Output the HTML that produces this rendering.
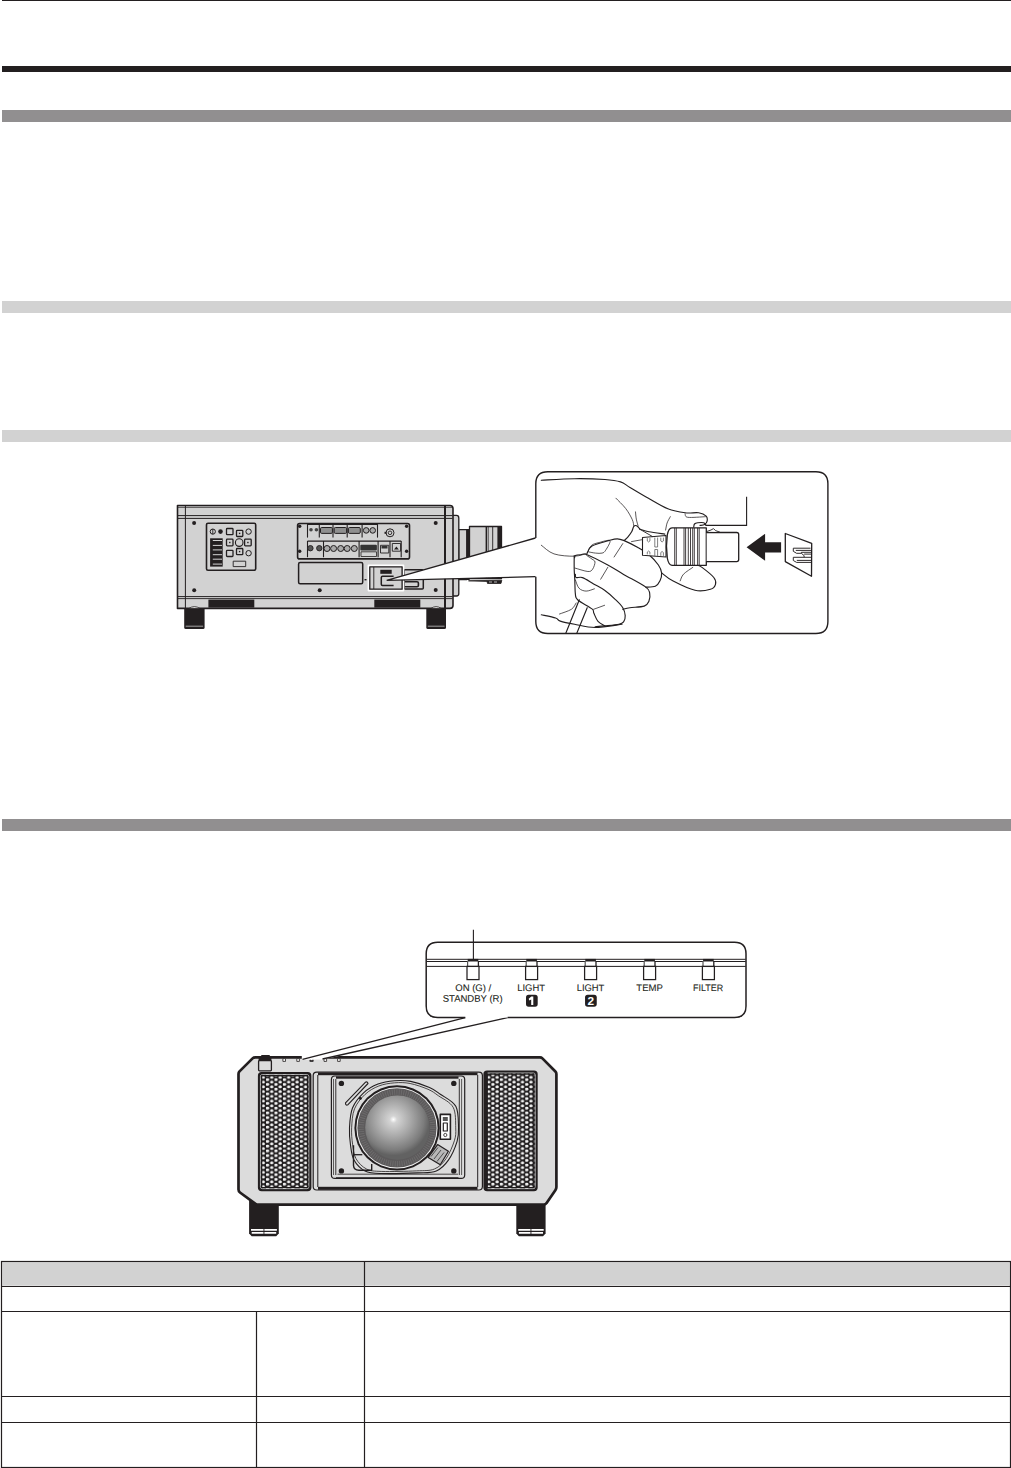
<!DOCTYPE html>
<html><head><meta charset="utf-8">
<style>
html,body{margin:0;padding:0;background:#fff;}
body{width:1011px;height:1468px;position:relative;overflow:hidden;font-family:"Liberation Sans",sans-serif;}
.a{position:absolute;}
#fig{position:absolute;left:0;top:0;}
</style></head>
<body>

<div class="a" style="left:2px;top:0;width:1009px;height:1px;background:#231f20"></div>
<div class="a" style="left:2px;top:66px;width:1009px;height:6px;background:#231f20"></div>
<div class="a" style="left:2px;top:110px;width:1009px;height:12px;background:#918f90"></div>
<div class="a" style="left:2px;top:301px;width:1009px;height:12px;background:#d2d2d2"></div>
<div class="a" style="left:2px;top:430px;width:1009px;height:12px;background:#d2d2d2"></div>
<div class="a" style="left:2px;top:819px;width:1009px;height:12px;background:#918f90"></div>

<svg id="fig" width="1011" height="1468" viewBox="0 0 1011 1468">

<g id="table">
<rect x="1.5" y="1261.5" width="1009" height="25" fill="#d2d2d2"/>
<rect x="2.6" y="1262.6" width="1006.8" height="22.8" fill="none" stroke="#e2e2e2" stroke-width="0.8"/>
<g stroke="#231f20" stroke-width="1.2" fill="none">
<rect x="1.5" y="1261.5" width="1009" height="206"/>
<line x1="1" y1="1286.5" x2="1011" y2="1286.5"/>
<line x1="1" y1="1311.5" x2="1011" y2="1311.5"/>
<line x1="1" y1="1396.5" x2="1011" y2="1396.5"/>
<line x1="1" y1="1422.5" x2="1011" y2="1422.5"/>
<line x1="364.5" y1="1261" x2="364.5" y2="1468"/>
<line x1="256.5" y1="1311" x2="256.5" y2="1468"/>
</g>
</g>
<g id="side" stroke="#231f20" fill="none" stroke-linejoin="round">
<rect x="469.5" y="526.5" width="32" height="52" fill="#d2d2d2" stroke-width="1.3"/>
<rect x="497.4" y="527" width="4.2" height="52" fill="#231f20" stroke="none"/>
<line x1="486.4" y1="527" x2="486.4" y2="579" stroke-width="1.6"/>
<line x1="488.4" y1="527" x2="488.4" y2="579" stroke-width="0.6"/>
<line x1="492.7" y1="527" x2="492.7" y2="579" stroke-width="0.9"/>
<rect x="458.8" y="529.6" width="8" height="50" fill="#d2d2d2" stroke-width="1.2"/>
<rect x="466.4" y="529" width="3.3" height="51" fill="#231f20" stroke="none"/>
<path d="M468.5,580.8 L487,581.4 L487.5,583.5 L501,583.5 L501.8,580.2 Z" fill="#231f20" stroke-width="0.8"/>
<path d="M489,582 L492,582 M494,582 L497,582" stroke="#ddd" stroke-width="0.8"/>
<path d="M450,515.4 L456.5,515.4 Q458.8,515.4 458.8,518 L458.8,593.5 Q458.8,596 456.5,596 L450,596" fill="#d2d2d2" stroke-width="1.3"/>
<line x1="452.6" y1="516" x2="452.6" y2="596" stroke-width="0.8"/>
<path d="M177.5,505.5 L450,505.5 Q453,505.5 453,508.5 L453,605.5 Q453,608.4 450,608.4 L177.5,608.4 Z" fill="#d2d2d2" stroke-width="1.6"/>
<line x1="178" y1="507.4" x2="452.5" y2="507.4" stroke-width="0.7"/>
<line x1="178" y1="515.6" x2="452.5" y2="515.6" stroke-width="1.0"/>
<line x1="178" y1="518.4" x2="452.5" y2="518.4" stroke-width="1.0"/>
<line x1="178" y1="596.6" x2="452.5" y2="596.6" stroke-width="1.0"/>
<line x1="178" y1="598.6" x2="452.5" y2="598.6" stroke-width="0.9"/>
<line x1="185.4" y1="506" x2="185.4" y2="608" stroke-width="1.0"/>
<line x1="445" y1="506" x2="445" y2="608" stroke-width="2.0"/>
<path d="M184.2,608 L204.6,608 L204.6,627.5 Q204.6,629 203.1,629 L185.7,629 Q184.2,629 184.2,627.5 Z" fill="#231f20" stroke="none"/>
<line x1="185.7" y1="626.2" x2="203.1" y2="626.2" stroke="#d8d8d8" stroke-width="0.7"/>
<path d="M188.7,608.6 Q194.39999999999998,604.6 200.1,608.6 Z" stroke="#231f20" stroke-width="0.8" fill="#e2e2e2"/>
<path d="M426.3,608 L446,608 L446,627.5 Q446,629 444.5,629 L427.8,629 Q426.3,629 426.3,627.5 Z" fill="#231f20" stroke="none"/>
<line x1="427.8" y1="626.2" x2="444.5" y2="626.2" stroke="#d8d8d8" stroke-width="0.7"/>
<path d="M430.8,608.6 Q436.15,604.6 441.5,608.6 Z" stroke="#231f20" stroke-width="0.8" fill="#e2e2e2"/>
<rect x="208.4" y="599.6" width="45.900000000000006" height="8" fill="#231f20" stroke="none"/>
<rect x="374.3" y="599.6" width="46.0" height="8" fill="#231f20" stroke="none"/>
<circle cx="194.1" cy="523" r="2" fill="#231f20" stroke="none"/>
<circle cx="194.2" cy="590.2" r="2" fill="#231f20" stroke="none"/>
<circle cx="319.7" cy="590.2" r="2" fill="#231f20" stroke="none"/>
<circle cx="435.7" cy="522.9" r="2" fill="#231f20" stroke="none"/>
<circle cx="435.7" cy="590.1" r="2" fill="#231f20" stroke="none"/>
<rect x="206.5" y="523.3" width="49.2" height="47" rx="1.5" fill="#d2d2d2" stroke-width="1.6"/>
<circle cx="212.8" cy="531.6" r="2.6" stroke-width="1"/><line x1="212.8" y1="529" x2="212.8" y2="534.2" stroke-width="0.9"/>
<circle cx="220.5" cy="531.6" r="2.3" fill="#231f20" stroke="none"/>
<rect x="226.5" y="528.5" width="6.5" height="6.2" rx="0.8" stroke-width="1.3"/>
<rect x="236.5" y="530.3" width="6.3" height="6.2" rx="0.8" stroke-width="1.3"/>
<rect x="226.5" y="539.2" width="6.5" height="6.6" rx="0.8" stroke-width="1.3"/>
<rect x="244.6" y="539.2" width="6.6" height="6.6" rx="0.8" stroke-width="1.3"/>
<rect x="226.5" y="550.3" width="6.5" height="6.2" rx="0.8" stroke-width="1.3"/>
<rect x="236.5" y="548.5" width="6.3" height="6.2" rx="0.8" stroke-width="1.3"/>
<rect x="238.9" y="532.6999999999999" width="1.4" height="1.4" fill="#231f20" stroke="none"/>
<rect x="229.10000000000002" y="541.8" width="1.4" height="1.4" fill="#231f20" stroke="none"/>
<rect x="247.20000000000002" y="541.8" width="1.4" height="1.4" fill="#231f20" stroke="none"/>
<rect x="238.9" y="550.9" width="1.4" height="1.4" fill="#231f20" stroke="none"/>
<circle cx="248.6" cy="531.6" r="2.7" stroke-width="1"/>
<circle cx="248.6" cy="553.2" r="2.7" stroke-width="1"/>
<circle cx="239.2" cy="542.6" r="3.8" stroke-width="1.1"/>
<rect x="233.2" y="561.2" width="12.5" height="5.4" stroke-width="0.9"/>
<rect x="210.1" y="538.3" width="12.6" height="28.3" fill="#231f20" stroke="none"/>
<line x1="212.8" y1="540.5" x2="222" y2="540.5" stroke="#e8e8e8" stroke-width="0.9"/>
<line x1="212.8" y1="545.4" x2="222" y2="545.4" stroke="#e8e8e8" stroke-width="0.9"/>
<line x1="212.8" y1="549.9" x2="222" y2="549.9" stroke="#e8e8e8" stroke-width="0.9"/>
<line x1="212.8" y1="554.7" x2="222" y2="554.7" stroke="#e8e8e8" stroke-width="0.9"/>
<line x1="212.8" y1="559.2" x2="222" y2="559.2" stroke="#e8e8e8" stroke-width="0.9"/>
<line x1="212.8" y1="564.1" x2="222" y2="564.1" stroke="#e8e8e8" stroke-width="0.9"/>
<rect x="297.6" y="523.5" width="111.9" height="35.4" rx="2" fill="#d2d2d2" stroke-width="1.6"/>
<line x1="307.5" y1="524.2" x2="377.5" y2="524.2" stroke-width="1.6"/>
<line x1="307.5" y1="524" x2="307.5" y2="537.6" stroke-width="1.1"/>
<line x1="319.3" y1="524" x2="319.3" y2="537.6" stroke-width="1.1"/>
<line x1="333" y1="524" x2="333" y2="537.6" stroke-width="1.1"/>
<line x1="347.2" y1="524" x2="347.2" y2="537.6" stroke-width="1.1"/>
<line x1="362.1" y1="524" x2="362.1" y2="537.6" stroke-width="1.1"/>
<line x1="377.5" y1="524" x2="377.5" y2="537.6" stroke-width="1.1"/>
<rect x="320.5" y="527.5" width="11.899999999999977" height="5.9" rx="1.2" fill="#8f8f8f" stroke-width="1"/>
<rect x="334.2" y="527.5" width="12.400000000000034" height="5.9" rx="1.2" fill="#8f8f8f" stroke-width="1"/>
<rect x="348.4" y="527.5" width="11.900000000000034" height="5.9" rx="1.2" fill="#8f8f8f" stroke-width="1"/>
<circle cx="311" cy="529.8" r="1.8" fill="#444" stroke="none"/>
<circle cx="316.4" cy="529.8" r="1.8" fill="#444" stroke="none"/>
<circle cx="366.2" cy="530.4" r="2.8" fill="#aaa" stroke-width="1"/>
<circle cx="372.7" cy="530.4" r="2.8" fill="#aaa" stroke-width="1"/>
<circle cx="390" cy="532.8" r="4" stroke-width="1"/><circle cx="390" cy="532.8" r="1.8" stroke-width="0.9"/><rect x="384.5" y="531.8" width="2" height="2" fill="#231f20" stroke="none"/>
<line x1="307.5" y1="541.2" x2="401.2" y2="541.2" stroke-width="1.2"/>
<line x1="307.5" y1="541" x2="307.5" y2="557.2" stroke-width="1.1"/>
<line x1="323.5" y1="541" x2="323.5" y2="557.2" stroke-width="1.1"/>
<line x1="359.1" y1="541" x2="359.1" y2="557.2" stroke-width="1.1"/>
<line x1="378.1" y1="541" x2="378.1" y2="557.2" stroke-width="1.1"/>
<line x1="390" y1="541" x2="390" y2="557.2" stroke-width="1.1"/>
<line x1="401.2" y1="541" x2="401.2" y2="557.2" stroke-width="1.1"/>
<circle cx="310.4" cy="548.2" r="2.7" fill="#555" stroke-width="0.9"/>
<circle cx="319.3" cy="548.2" r="2.7" fill="#555" stroke-width="0.9"/>
<circle cx="327" cy="548.5" r="3" fill="#aaa" stroke-width="1"/>
<circle cx="333.6" cy="548.5" r="3" fill="#aaa" stroke-width="1"/>
<circle cx="340.7" cy="548.5" r="3" fill="#aaa" stroke-width="1"/>
<circle cx="347.2" cy="548.5" r="3" fill="#aaa" stroke-width="1"/>
<circle cx="354.3" cy="548.5" r="3" fill="#aaa" stroke-width="1"/>
<rect x="360.3" y="544.7" width="16.6" height="5.9" rx="1" fill="#333" stroke="none"/>
<rect x="361" y="551.8" width="15.5" height="4.7" stroke-width="0.8"/>
<rect x="380.5" y="545.3" width="8.3" height="7.7" stroke-width="0.9"/><rect x="381.5" y="546" width="6" height="2.5" fill="#333" stroke="none"/>
<rect x="392.3" y="543.5" width="8.3" height="7.7" stroke-width="0.9"/><path d="M394,549.5 L396.4,546.5 L398.8,549.5Z" fill="#231f20" stroke="none"/>
<circle cx="299.7" cy="526.3" r="1.7" fill="#231f20" stroke="none"/>
<circle cx="406.6" cy="526.3" r="1.7" fill="#231f20" stroke="none"/>
<circle cx="299.7" cy="551.2" r="1.7" fill="#231f20" stroke="none"/>
<circle cx="406.6" cy="551.2" r="1.7" fill="#231f20" stroke="none"/>
<rect x="298.6" y="562.5" width="64.1" height="21.3" rx="1.5" stroke-width="1.5"/>
<rect x="364.5" y="579" width="2" height="1.4" fill="#231f20" stroke="none"/>
<rect x="404" y="569.8" width="19.3" height="19.3" rx="1" stroke-width="1.5"/>
<path d="M404.5,581.7 L417,581.7 Q418.4,581.7 418.4,583 L418.4,585.5 Q418.4,586.7 417,586.7 L404.5,586.7" stroke-width="1.6"/>
<rect x="368.4" y="565.4" width="35.1" height="25.2" stroke="#fff" stroke-width="1.6" fill="#d2d2d2"/>
<rect x="369.8" y="566.8" width="32.3" height="22.4" stroke-width="1.3"/>
<line x1="373.8" y1="567" x2="373.8" y2="589" stroke-width="0.9"/>
<rect x="380.3" y="569.8" width="11.4" height="4" fill="#231f20" stroke="none"/>
<path d="M393.6,576.3 L382.5,576.3 Q381.3,576.3 381.3,577.5 L381.3,584.3 Q381.3,585.5 382.5,585.5 L393.6,585.5" stroke-width="1.5"/>
</g><path d="M535.5,538 L386.7,580.3 L535.5,576.7" fill="#fff" stroke="#231f20" stroke-width="1.3" stroke-linejoin="miter"/>
<rect x="536" y="538.5" width="3" height="38" fill="#fff"/>
<path d="M535.8,538 L535.8,483.8 Q535.8,471.8 547.8,471.8 L815.9,471.8 Q827.9,471.8 827.9,483.8 L827.9,621.5 Q827.9,633.5 815.9,633.5 L547.8,633.5 Q535.8,633.5 535.8,621.5 L535.8,576.7" fill="none" stroke="#231f20" stroke-width="1.4"/><g id="hand" stroke="#231f20" fill="none" stroke-linecap="round" stroke-linejoin="round">
<path d="M541.3,480.3 C546.85,480.03 563.98,478.83 574.6,478.7 C585.22,478.57 597.35,478.97 605,479.5 C612.65,480.03 616.33,480.58 620.5,481.9 C624.67,483.22 625.42,484.72 630,487.4 C634.58,490.08 641.68,494.43 648,498 C654.32,501.57 661.7,506.33 667.9,508.8 C674.1,511.27 680.07,512.13 685.2,512.8 C690.33,513.47 695.2,512.23 698.7,512.8 C702.2,513.37 704.8,514.8 706.2,516.2 C707.6,517.6 707.37,519.8 707.1,521.2 C706.83,522.6 705.78,523.9 704.6,524.6 C703.42,525.3 700.77,525.27 700,525.4" stroke-width="1.15"/>
<path d="M685.2,513.6 C685.62,514.22 684.33,516.78 687.7,517.3 C691.07,517.82 702.45,516.8 705.4,516.7" stroke-width="0.75"/>
<path d="M693.7,527.2 C693.83,526.67 693.83,524.73 694.5,524 C695.17,523.27 696.18,523.02 697.7,522.8 C699.22,522.58 702.25,522.37 703.6,522.7 C704.95,523.03 705.43,524.45 705.8,524.8" stroke-width="1.15"/>
<path d="M615.9,498.2 C617.53,499.92 622.98,504.97 625.7,508.5 C628.42,512.03 630.85,516.5 632.2,519.4 C633.55,522.3 633.53,524.82 633.8,525.9" stroke-width="0.75"/>
<path d="M635.5,511.9 C635.63,513.1 635.85,516.72 636.3,519.1 C636.75,521.48 637.88,525.02 638.2,526.2" stroke-width="0.75"/>
<path d="M670.3,516.7 C669.77,517.75 667.88,520.77 667.1,523 C666.32,525.23 665.85,528.92 665.6,530.1" stroke-width="0.75"/>
<path d="M640,529.2 C639.43,528.63 637.63,526.27 636.6,525.8 C635.57,525.33 634.6,525.45 633.8,526.4 C633,527.35 632.77,529.77 631.8,531.5 C630.83,533.23 629.23,535.32 628,536.8 C626.77,538.28 625,539.8 624.4,540.4" stroke-width="1.15"/>
<path d="M640,529.2 C641.5,529.62 644.87,530.88 649,531.7 C653.13,532.52 662.17,533.7 664.8,534.1" stroke-width="1.15"/>
<path d="M631.5,541.6 L642.6,539.6" stroke-width="0.75"/>
<path d="M541.3,545.2 C543.42,546.65 548.45,552.07 554,553.9 C559.55,555.73 569.07,556.33 574.6,556.2 C580.13,556.07 585.1,553.62 587.2,553.1" stroke-width="0.75"/>
<path d="M587.2,553.1 C588,551.92 588.3,548.12 592,546 C595.7,543.88 605.18,541.6 609.4,540.4 C613.62,539.2 614.93,538.8 617.3,538.8 C619.67,538.8 620.17,538.95 623.6,540.4 C627.03,541.85 633.67,545.12 637.9,547.5 C642.13,549.88 645.58,551.78 649,554.7 C652.42,557.62 656.3,561.97 658.4,565 C660.5,568.03 661.33,570.27 661.6,572.9 C661.87,575.53 661.05,578.57 660,580.8 C658.95,583.03 657.67,585.25 655.3,586.3 C652.93,587.35 647.38,586.97 645.8,587.1" stroke-width="1.15"/>
<path d="M587.9,552 C588.5,550.9 589.62,546.98 591.5,545.4 C593.38,543.82 596.13,543.28 599.2,542.5 C602.27,541.72 608.82,539.42 609.9,540.7 C610.98,541.98 607,548.13 605.7,550.2 C604.4,552.27 603.78,552.62 602.1,553.1 C600.42,553.58 597.77,553.28 595.6,553.1 C593.43,552.92 590.18,552.18 589.1,552" stroke-width="0.75"/>
<path d="M622.8,543.6 L614.1,557" stroke-width="0.75"/>
<path d="M574.6,557.8 C574.73,557.42 574.35,556.02 575.4,555.5 C576.45,554.98 578.93,554.83 580.9,554.7 C582.87,554.57 582.72,552.98 587.2,554.7 C591.68,556.42 601.73,561.72 607.8,565 C613.87,568.28 617.27,570.72 623.6,574.4 C629.93,578.08 641.45,583.93 645.8,587.1 C650.15,590.27 649.18,591.03 649.7,593.4 C650.22,595.77 649.82,599.18 648.9,601.3 C647.98,603.42 647.37,605.03 644.2,606.1 C641.03,607.17 633.47,607.17 629.9,607.7 C626.33,608.23 623.98,609.03 622.8,609.3" stroke-width="1.15"/>
<path d="M574.8,568 C576.98,568.58 584.93,571.3 587.9,571.5 C590.87,571.7 591.42,570.78 592.6,569.2 C593.78,567.62 595.1,563.68 595,562 C594.9,560.32 593.38,560.18 592,559.1 C590.62,558.02 587.58,556.1 586.7,555.5" stroke-width="0.75"/>
<path d="M607.8,567.3 L600.7,579.2" stroke-width="0.75"/>
<path d="M575.4,574.4 C575.52,574.93 574.92,577.07 576.1,577.6 C577.28,578.13 579.58,576.55 582.5,577.6 C585.42,578.65 589.92,581.78 593.6,583.9 C597.28,586.02 600.92,587.65 604.6,590.3 C608.28,592.95 612.67,596.9 615.7,599.8 C618.73,602.7 621.22,605.07 622.8,607.7 C624.38,610.33 625.07,613.23 625.2,615.6 C625.33,617.97 624.65,620.45 623.6,621.9 C622.55,623.35 622.07,623.63 618.9,624.3 C615.73,624.97 608.57,625.5 604.6,625.9 C600.63,626.3 596.68,626.57 595.1,626.7" stroke-width="1.15"/>
<path d="M575.4,579.9 C576,581.28 577.22,586.33 579,588.2 C580.78,590.07 583.53,591 586.1,591.1 C588.67,591.2 593.02,589.18 594.4,588.8" stroke-width="0.75"/>
<path d="M604.6,605.3 L593.6,609.3" stroke-width="0.75"/>
<path d="M574.2,555.5 C574.2,557.78 574.1,565.13 574.2,569.2 C574.3,573.27 574.6,575.75 574.8,579.9 C575,584.05 574.9,590.75 575.4,594.1 C575.9,597.45 575.03,597.53 577.8,600 C580.57,602.47 589.33,606.72 592,608.9 C594.67,611.08 592.8,611.02 593.8,613.1 C594.8,615.18 596.12,619.23 598,621.4 C599.88,623.57 603.92,625.32 605.1,626.1" stroke-width="1.15"/>
<path d="M541.3,614.8 C543.68,615.33 552.43,616.95 555.6,618 C558.77,619.05 557.13,620.05 560.3,621.1 C563.47,622.15 568.8,623.23 574.6,624.3 C580.4,625.37 587.2,627.5 595.1,627.5 C603,627.5 617.52,624.83 622,624.3" stroke-width="1.15"/>
<path d="M559.5,614 C561.48,613.22 568.63,611.13 571.4,609.3 C574.17,607.47 575.32,604.05 576.1,603" stroke-width="0.75"/>
<path d="M565.9,633 L579.3,599.8" stroke-width="1.15"/>
<path d="M576.9,633 L587.2,607.7" stroke-width="1.15"/>
<path d="M661.6,572.9 C663.45,574.22 667.13,577.9 672.7,580.8 C678.27,583.7 688.72,588.88 695,590.3 C701.28,591.72 706.98,590.3 710.4,589.3 C713.82,588.3 714.93,586.27 715.5,584.3 C716.07,582.33 716.05,580.32 713.8,577.5 C711.55,574.68 704.8,569.5 702,567.4 C699.2,565.3 697.83,565.32 697,564.9" stroke-width="1.15"/>
<path d="M692.8,567.4 C691.25,568.53 685.6,571.95 683.5,574.2 C681.4,576.45 680.75,579.78 680.2,580.9" stroke-width="0.75"/>
<path d="M642.5,537.5 L666,535.5 L666,557 L642.5,555.3 Z" fill="#fff" stroke-width="1.1"/>
<path d="M647.3,538.5 L647.3,541 Q648.6,543 649.9,541 L649.9,538.5 M654.8,538 L654.8,547 L657.6,547 L657.6,538 M660.8,538 L660.8,541 Q662.1,543 663.4,541 L663.4,538 M647.3,554 L647.3,552 Q648.6,550 649.9,552 L649.9,554 M654.8,555.5 L654.8,549.5 L657.6,549.5 L657.6,555.5 M660.8,555.5 L660.8,552.5 Q662.1,550.5 663.4,552.5 L663.4,555.5" stroke="#555" stroke-width="0.75"/>
<path d="M639.6,529.1 L652.4,536.5" stroke-width="0.9"/>
<path d="M672,527.8 L706.3,527.8 L706.3,565.3 L672,565.3 Q668.5,565 667.3,558 Q665.6,546.5 667.3,535 Q668.5,528 672,527.8Z" fill="#fff" stroke-width="1.3"/>
<line x1="674.7" y1="528.3" x2="674.7" y2="564.8" stroke-width="0.85"/>
<line x1="676.3" y1="528.3" x2="676.3" y2="564.8" stroke-width="0.85"/>
<line x1="684" y1="528.3" x2="684" y2="564.8" stroke-width="0.85"/>
<line x1="685.6" y1="528.3" x2="685.6" y2="564.8" stroke-width="0.85"/>
<line x1="688.3" y1="528.3" x2="688.3" y2="564.8" stroke-width="0.85"/>
<line x1="690.5" y1="528.3" x2="690.5" y2="564.8" stroke-width="0.85"/>
<line x1="692.7" y1="528.3" x2="692.7" y2="564.8" stroke-width="0.85"/>
<line x1="694.3" y1="528.3" x2="694.3" y2="564.8" stroke-width="0.85"/>
<line x1="697.6" y1="528.3" x2="697.6" y2="564.8" stroke-width="0.85"/>
<line x1="699.2" y1="528.3" x2="699.2" y2="564.8" stroke-width="0.85"/>
<path d="M706.7,532.5 L736.7,532.5 Q738.7,532.5 738.7,534.5 L738.7,559.6 Q738.7,561.6 736.7,561.6 L706.7,561.6" fill="#fff" stroke-width="1.3"/>
<path d="M706.7,531.5 L711,530 L713.5,528.6 L715.5,530.6 L719.5,532" fill="#fff" stroke-width="0.9"/>
</g>
<path d="M746.6,496.8 L746.6,525.4 L705.4,525.4" fill="none" stroke="#231f20" stroke-width="1.1"/>
<path d="M746.6,547.3 L765.1,533.8 L765.1,542.2 L781.1,542.2 L781.1,552.6 L765.1,552.6 L765.1,560.7 Z" fill="#231f20"/>
<path d="M785.3,533.5 L811.7,543.4 L811.5,576.3 L785.3,561.6 Z" fill="#fff" stroke="#231f20" stroke-width="1.3" stroke-linejoin="round"/>
<path d="M810.5,548.2 L793.3,548.2 L793.3,551.3 L796.6,553.3 L801.4,553.3 L801.4,552.3 L811.5,552.3 M795.8,550.4 L811.5,550.4 M804.1,554.1 L811.5,554.1 M801.4,553.3 L804.1,555.6 L804.1,557.3 M811.5,557.3 L793.3,557.3 L793.3,560.5 L796.6,562.4 L811.5,562.4 M796.8,560.4 L811.5,560.4" fill="none" stroke="#231f20" stroke-width="0.95" stroke-linejoin="round"/><defs>
<pattern id="gr1" x="266.0" y="1087.95" width="8.46" height="4.75" patternUnits="userSpaceOnUse">
<rect width="8.46" height="4.75" fill="#1f1c1d"/>
<ellipse cx="1.5" cy="1.2" rx="1.7" ry="1.5" fill="#f2f2f2"/>
<ellipse cx="5.73" cy="3.575" rx="1.7" ry="1.5" fill="#f2f2f2"/>
<ellipse cx="5.73" cy="-1.175" rx="1.7" ry="1.5" fill="#f2f2f2"/>
<ellipse cx="1.5" cy="5.95" rx="1.7" ry="1.5" fill="#f2f2f2"/>
</pattern>
<pattern id="gr2" x="491.4" y="1087.95" width="8.46" height="4.75" patternUnits="userSpaceOnUse">
<rect width="8.46" height="4.75" fill="#1f1c1d"/>
<ellipse cx="1.5" cy="1.2" rx="1.7" ry="1.5" fill="#f2f2f2"/>
<ellipse cx="5.73" cy="3.575" rx="1.7" ry="1.5" fill="#f2f2f2"/>
<ellipse cx="5.73" cy="-1.175" rx="1.7" ry="1.5" fill="#f2f2f2"/>
<ellipse cx="1.5" cy="5.95" rx="1.7" ry="1.5" fill="#f2f2f2"/>
</pattern>
<radialGradient id="ball" cx="393.4" cy="1119.5" r="36" gradientUnits="userSpaceOnUse">
<stop offset="0" stop-color="#ffffff"/><stop offset="0.1" stop-color="#d4d4d4"/><stop offset="0.5" stop-color="#a6a6a6"/><stop offset="0.85" stop-color="#7c7c7c"/><stop offset="1" stop-color="#626262"/>
</radialGradient>
</defs>
<g id="front" stroke="#231f20" fill="none" stroke-linejoin="round">
<path d="M249.1,1200 L278.8,1200 L278.8,1233.5 L276.2,1236.3 L251.7,1236.3 L249.1,1233.5 Z" fill="#231f20" stroke="none"/>
<path d="M251.0,1229.9 L276.90000000000003,1229.9 M251.7,1232.9 L276.2,1232.9" stroke="#fff" stroke-width="1.6"/>
<line x1="263.95" y1="1228.8" x2="263.95" y2="1234.2" stroke="#231f20" stroke-width="0.9"/>
<path d="M516.3,1200 L545.6,1200 L545.6,1233.5 L543.0,1236.3 L518.9,1236.3 L516.3,1233.5 Z" fill="#231f20" stroke="none"/>
<path d="M518.1999999999999,1229.9 L543.7,1229.9 M518.9,1232.9 L543.0,1232.9" stroke="#fff" stroke-width="1.6"/>
<line x1="530.95" y1="1228.8" x2="530.95" y2="1234.2" stroke="#231f20" stroke-width="0.9"/>
<path d="M255.5,1057.4 L540,1057.4 Q541.4,1057.4 542.4,1058.4 L555.4,1071.5 Q556.4,1072.5 556.4,1074 L556.4,1187 Q556.4,1188.6 555.5,1189.9 L546.6,1203.1 Q545.6,1204.6 543.8,1204.6 L258,1204.6 Q256.6,1204.6 255.5,1203.8 L240,1192.5 Q238.5,1191.4 238.5,1189.6 L238.5,1074 Q238.5,1072.5 239.5,1071.4 L252.6,1058.4 Q253.6,1057.4 255.5,1057.4Z" fill="#dcdcdc" stroke-width="2.7"/>
<rect x="258.6" y="1060.6" width="12.8" height="10.2" rx="0.8" fill="#dcdcdc" stroke-width="1.3"/>
<rect x="261" y="1055" width="9" height="3" rx="1" fill="#231f20" stroke="none"/>
<rect x="258.6" y="1057.5" width="12.8" height="3.2" fill="#231f20" stroke="none"/>
<rect x="282.9" y="1058.6" width="2.6" height="2.8" fill="#fff" stroke-width="0.8"/>
<rect x="296.8" y="1058.6" width="2.6" height="2.8" fill="#fff" stroke-width="0.8"/>
<rect x="310.3" y="1058.6" width="2.6" height="2.8" fill="#fff" stroke-width="0.8"/>
<rect x="324" y="1058.6" width="2.6" height="2.8" fill="#fff" stroke-width="0.8"/>
<rect x="337.6" y="1058.6" width="2.6" height="2.8" fill="#fff" stroke-width="0.8"/>
<rect x="258.6" y="1072.7" width="52.1" height="117.8" rx="3" fill="#1f1c1d" stroke="#231f20" stroke-width="1.4"/>
<rect x="260.40000000000003" y="1074.5" width="48.5" height="114.2" rx="2" fill="url(#gr1)" stroke="#d8d8d8" stroke-width="0.7"/>
<rect x="261.6" y="1075.7" width="46.1" height="111.8" fill="none" stroke="#1f1c1d" stroke-width="1.2"/>
<rect x="484.1" y="1071.1" width="52.9" height="119.4" rx="3" fill="#1f1c1d" stroke="#231f20" stroke-width="1.4"/>
<rect x="485.90000000000003" y="1072.8999999999999" width="49.3" height="115.8" rx="2" fill="url(#gr2)" stroke="#d8d8d8" stroke-width="0.7"/>
<rect x="487.1" y="1074.1" width="46.9" height="113.4" fill="none" stroke="#1f1c1d" stroke-width="1.2"/>
<rect x="484.1" y="1072" width="3.4" height="117.5" fill="#231f20" stroke="none"/>
<rect x="313.2" y="1072.1" width="169.2" height="117.9" rx="3.5" fill="#dcdcdc" stroke-width="1.2"/>
<rect x="318" y="1072.6" width="159.5" height="2.6" fill="#231f20" stroke="none"/>
<rect x="318" y="1186.8" width="159.5" height="3" fill="#231f20" stroke="none"/>
<line x1="317.8" y1="1075" x2="317.8" y2="1187" stroke-width="1.0"/>
<line x1="477.7" y1="1075" x2="477.7" y2="1187" stroke-width="1.0"/>
<rect x="331.4" y="1076" width="133.3" height="102.4" rx="3.5" fill="#dcdcdc" stroke-width="1.2"/>
<rect x="336" y="1076.4" width="122.5" height="2.3" fill="#231f20" stroke="none"/>
<line x1="336" y1="1178" x2="458.5" y2="1178" stroke-width="1.6"/>
<line x1="335.8" y1="1079" x2="335.8" y2="1175" stroke-width="0.9"/>
<line x1="333.5" y1="1079" x2="333.5" y2="1175" stroke-width="0.7"/>
<line x1="461.6" y1="1079" x2="461.6" y2="1175" stroke-width="0.7"/>
<line x1="459.3" y1="1079" x2="459.3" y2="1175" stroke-width="0.9"/>
<line x1="337.5" y1="1174.2" x2="458" y2="1174.2" stroke-width="0.8"/>
<path d="M349.5,1127.8 C349.83,1121.63 350.15,1113.83 352.5,1108 C354.85,1102.17 359.35,1096.8 363.6,1092.8 C367.85,1088.8 372.83,1086.02 378,1084 C383.17,1081.98 389.15,1081.13 394.6,1080.7 C400.05,1080.27 404.88,1080.27 410.7,1081.4 C416.52,1082.53 424.57,1085.37 429.5,1087.5 C434.43,1089.63 435.92,1091.07 440.3,1094.2 C444.68,1097.33 452.77,1100.7 455.8,1106.3 C458.83,1111.9 458.28,1121.97 458.5,1127.8 C458.72,1133.63 458.78,1135.92 457.1,1141.3 C455.42,1146.68 451.87,1155.17 448.4,1160.1 C444.93,1165.03 441.47,1168.77 436.3,1170.9 C431.13,1173.03 426.6,1172.47 417.4,1172.9 C408.2,1173.33 389.83,1173.83 381.1,1173.5 C372.37,1173.17 369.52,1173.15 365,1170.9 C360.48,1168.65 356.42,1164.32 354,1160 C351.58,1155.68 351.25,1150.37 350.5,1145 C349.75,1139.63 349.17,1133.97 349.5,1127.8Z" fill="none" stroke-width="1.1"/>
<path d="M351.64,1127.8 C351.96,1121.91 352.26,1114.46 354.5,1108.89 C356.75,1103.32 361.04,1098.19 365.1,1094.38 C369.16,1090.56 373.92,1087.9 378.86,1085.97 C383.79,1084.05 389.5,1083.23 394.71,1082.82 C399.91,1082.41 404.53,1082.41 410.08,1083.49 C415.64,1084.57 423.33,1087.28 428.04,1089.31 C432.75,1091.35 434.17,1092.72 438.35,1095.71 C442.54,1098.7 450.26,1101.92 453.15,1107.27 C456.05,1112.62 455.53,1122.23 455.73,1127.8 C455.94,1133.37 456,1135.55 454.4,1140.69 C452.79,1145.83 449.4,1153.94 446.09,1158.65 C442.78,1163.36 439.47,1166.92 434.53,1168.96 C429.6,1171 425.27,1170.46 416.48,1170.87 C407.7,1171.28 390.16,1171.76 381.82,1171.44 C373.48,1171.13 370.75,1171.11 366.44,1168.96 C362.13,1166.81 358.24,1162.67 355.94,1158.55 C353.63,1154.43 353.31,1149.35 352.59,1144.23 C351.88,1139.1 351.32,1133.69 351.64,1127.8Z" fill="none" stroke-width="0.8"/>
<path d="M353.5,1145.3 L353.5,1165.5 Q353.8,1170.2 358.9,1170.2 L371.7,1170.2 L371.7,1164.1" fill="none" stroke-width="1.4"/>
<line x1="353.5" y1="1154.7" x2="362.3" y2="1154.7" stroke-width="1.3"/>
<path d="M345.5,1102.9 L365.3,1082.3 Q367.5,1081 368,1083.5 L348,1104.7 Q345.5,1106 345.5,1102.9Z" fill="#dcdcdc" stroke-width="1.1"/>
<circle cx="360.3" cy="1098.2" r="1.5" fill="#231f20" stroke="none"/>
<circle cx="341.4" cy="1083.4" r="2.7" fill="#231f20" stroke="none"/>
<circle cx="453.8" cy="1083.4" r="2.7" fill="#231f20" stroke="none"/>
<circle cx="341.4" cy="1170.9" r="2.7" fill="#231f20" stroke="none"/>
<circle cx="453.8" cy="1170.9" r="2.7" fill="#231f20" stroke="none"/>
<rect x="440.3" y="1114.4" width="10.1" height="24.8" fill="#fff" stroke-width="1.6"/>
<rect x="442.8" y="1117" width="5" height="4" fill="#555" stroke="none"/>
<rect x="443.3" y="1123" width="4" height="8" fill="none" stroke-width="1.2"/>
<circle cx="445.3" cy="1135" r="1.6" fill="none" stroke-width="0.8"/>
<path d="M428.2,1157.4 L437.6,1144.6 L448.4,1151.3 L440.3,1164.8Z" fill="#b8b8b8" stroke-width="1.2"/>
<path d="M431,1156.5 L438,1147.5 M434,1159 L441,1150 M437,1161.5 L444,1152.5" stroke="#333" stroke-width="0.8"/>
<circle cx="397" cy="1127.9" r="42.6" fill="#231f20" stroke="none"/>
<circle cx="397" cy="1127.9" r="40.6" fill="#f4f4f4" stroke="none"/>
<circle cx="397" cy="1127.9" r="39.6" fill="#5c5a5b" stroke="none"/>
<circle cx="397" cy="1127.9" r="35.8" fill="none" stroke="#6e6c6d" stroke-width="5.5" stroke-dasharray="0.9 1.4"/>
<circle cx="397.4" cy="1127.6" r="32.2" fill="url(#ball)" stroke="none"/>
</g><path d="M465.3,1017.6 L302.5,1059.6 L323.5,1059.6 L507.6,1017.6Z" fill="#fff" stroke="none"/>
<path d="M301.8,1055.6 L322,1055.6 L322,1058.8 L313,1059.2 L301.8,1059.6Z" fill="#fff" stroke="none"/>
<rect x="309.5" y="1060.2" width="4" height="1.3" fill="#231f20"/>
<path d="M465.3,1017.6 L302.5,1059.4 M507.6,1017.6 L322.5,1059.0" fill="none" stroke="#231f20" stroke-width="1.3"/>
<path d="M465.3,1017.6 L437.7,1017.6 Q426.2,1017.6 426.2,1006.1 L426.2,953.7 Q426.2,942.2 437.7,942.2 L734.5,942.2 Q746,942.2 746,953.7 L746,1006.1 Q746,1017.6 734.5,1017.6 L507.6,1017.6" fill="#fff" stroke="#231f20" stroke-width="1.5"/>
<line x1="426.6" y1="959.3" x2="745.7" y2="959.3" stroke="#231f20" stroke-width="1.0"/>
<line x1="426.6" y1="961.5" x2="745.7" y2="961.5" stroke="#231f20" stroke-width="1.0"/>
<line x1="426.6" y1="966.4" x2="745.7" y2="966.4" stroke="#231f20" stroke-width="1.0"/>
<rect x="467.7" y="958.9" width="10.6" height="3" fill="#231f20"/>
<rect x="467.7" y="961.5" width="10.6" height="4.9" fill="#fff"/>
<line x1="467.6" y1="961" x2="467.6" y2="966.6" stroke="#555" stroke-width="1.2"/>
<line x1="478.4" y1="961" x2="478.4" y2="966.6" stroke="#231f20" stroke-width="1.3"/>
<line x1="467" y1="966.4" x2="479" y2="966.4" stroke="#231f20" stroke-width="1.0"/>
<rect x="467" y="966.4" width="12" height="13.2" fill="none" stroke="#231f20" stroke-width="1.25"/>
<rect x="526.3" y="958.9" width="10.6" height="3" fill="#231f20"/>
<rect x="526.3" y="961.5" width="10.6" height="4.9" fill="#fff"/>
<line x1="526.2" y1="961" x2="526.2" y2="966.6" stroke="#555" stroke-width="1.2"/>
<line x1="537" y1="961" x2="537" y2="966.6" stroke="#231f20" stroke-width="1.3"/>
<line x1="525.6" y1="966.4" x2="537.6" y2="966.4" stroke="#231f20" stroke-width="1.0"/>
<rect x="525.6" y="966.4" width="12" height="13.2" fill="none" stroke="#231f20" stroke-width="1.25"/>
<rect x="585.3" y="958.9" width="10.6" height="3" fill="#231f20"/>
<rect x="585.3" y="961.5" width="10.6" height="4.9" fill="#fff"/>
<line x1="585.2" y1="961" x2="585.2" y2="966.6" stroke="#555" stroke-width="1.2"/>
<line x1="596" y1="961" x2="596" y2="966.6" stroke="#231f20" stroke-width="1.3"/>
<line x1="584.6" y1="966.4" x2="596.6" y2="966.4" stroke="#231f20" stroke-width="1.0"/>
<rect x="584.6" y="966.4" width="12" height="13.2" fill="none" stroke="#231f20" stroke-width="1.25"/>
<rect x="644.3" y="958.9" width="10.6" height="3" fill="#231f20"/>
<rect x="644.3" y="961.5" width="10.6" height="4.9" fill="#fff"/>
<line x1="644.2" y1="961" x2="644.2" y2="966.6" stroke="#555" stroke-width="1.2"/>
<line x1="655" y1="961" x2="655" y2="966.6" stroke="#231f20" stroke-width="1.3"/>
<line x1="643.6" y1="966.4" x2="655.6" y2="966.4" stroke="#231f20" stroke-width="1.0"/>
<rect x="643.6" y="966.4" width="12" height="13.2" fill="none" stroke="#231f20" stroke-width="1.25"/>
<rect x="703.1" y="958.9" width="10.6" height="3" fill="#231f20"/>
<rect x="703.1" y="961.5" width="10.6" height="4.9" fill="#fff"/>
<line x1="703" y1="961" x2="703" y2="966.6" stroke="#555" stroke-width="1.2"/>
<line x1="713.8" y1="961" x2="713.8" y2="966.6" stroke="#231f20" stroke-width="1.3"/>
<line x1="702.4" y1="966.4" x2="714.4" y2="966.4" stroke="#231f20" stroke-width="1.0"/>
<rect x="702.4" y="966.4" width="12" height="13.2" fill="none" stroke="#231f20" stroke-width="1.25"/>
<line x1="473.4" y1="929.8" x2="473.4" y2="960" stroke="#231f20" stroke-width="1.1"/>
<g style="font-family:'Liberation Sans',sans-serif;font-size:9.6px;fill:#231f20;stroke:#231f20;stroke-width:0.1" text-anchor="middle">
<text transform="translate(473.25,991.1) rotate(0.2) scale(1,1.0)" x="0" y="0" textLength="36.0" lengthAdjust="spacingAndGlyphs">ON (G) /</text>
<text transform="translate(472.65,1001.8) rotate(0.2) scale(1,1.0)" x="0" y="0" textLength="59.9" lengthAdjust="spacingAndGlyphs">STANDBY (R)</text>
<text transform="translate(531.1,991.1) rotate(0.2) scale(1,1.0)" x="0" y="0" textLength="27.7" lengthAdjust="spacingAndGlyphs">LIGHT</text>
<text transform="translate(590.5,991.1) rotate(0.2) scale(1,1.0)" x="0" y="0" textLength="27.7" lengthAdjust="spacingAndGlyphs">LIGHT</text>
<text transform="translate(649.65,991.1) rotate(0.2) scale(1,1.0)" x="0" y="0" textLength="26.6" lengthAdjust="spacingAndGlyphs">TEMP</text>
<text transform="translate(708.1,991.1) rotate(0.2) scale(1,1.0)" x="0" y="0" textLength="30.1" lengthAdjust="spacingAndGlyphs">FILTER</text>
</g>
<rect x="526" y="994.7" width="11.7" height="12" rx="2.6" fill="#231f20"/>
<rect x="585.05" y="994.7" width="11.7" height="12" rx="2.6" fill="#231f20"/>
<path d="M531.3,996.6 L533.3,996.6 L533.3,1004.9 L531.2,1004.9 L531.2,999.6 L529.3,1000.6 L528.7,998.7Z" fill="#fff"/>
<text x="590.7" y="1005" text-anchor="middle" style="font-family:'Liberation Sans',sans-serif;font-size:11.8px;font-weight:bold;fill:#fff">2</text>
</svg>
</body></html>
